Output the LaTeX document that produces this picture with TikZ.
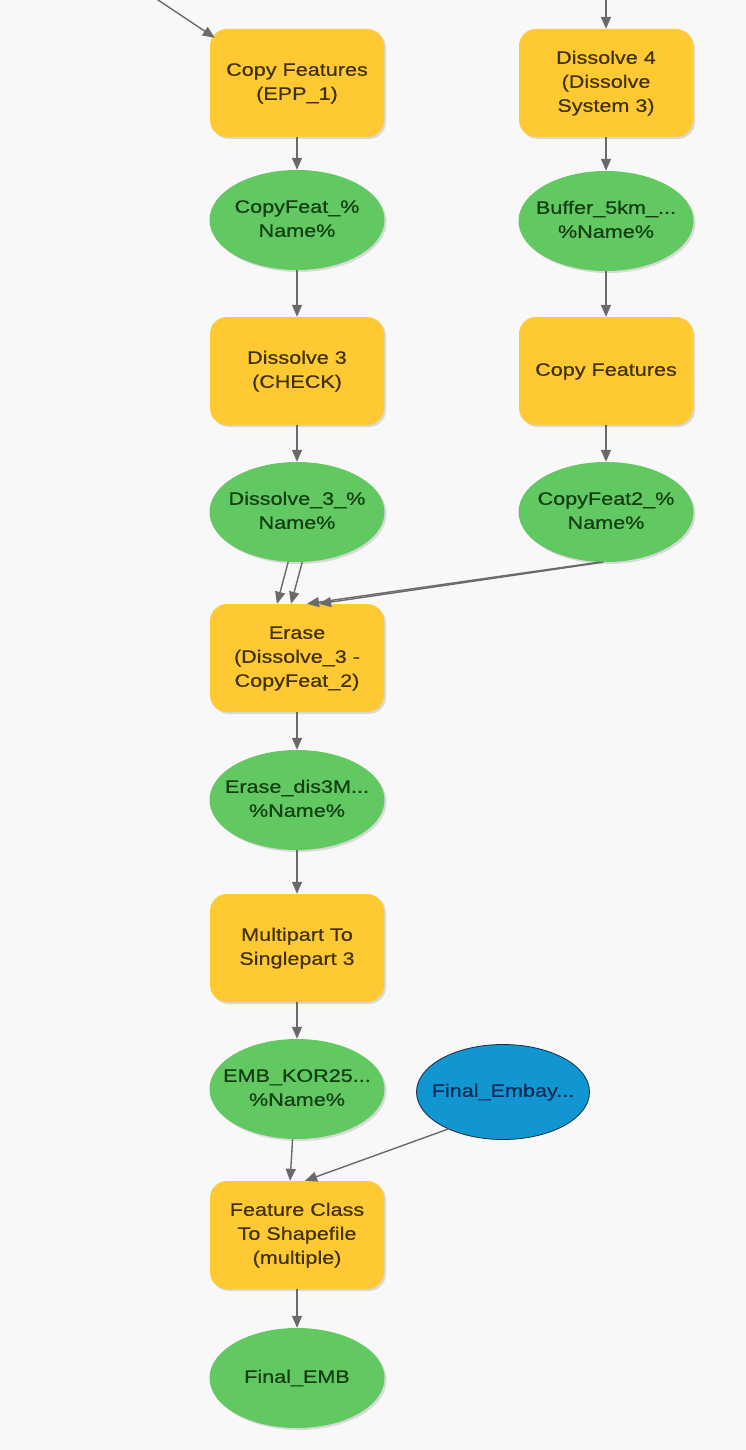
\documentclass[tikz,border=0pt]{standalone}
\usepackage{fontspec}
\setmainfont{Liberation Sans}
\newfontfamily\labfont[FakeStretch=1.2,FakeBold=0.6]{Liberation Sans}
\usetikzlibrary{arrows.meta,shapes.geometric,shadows,calc}
\definecolor{bg}{HTML}{F8F8F8}
\definecolor{toolfill}{HTML}{FFC933}
\definecolor{tooltxt}{HTML}{3F3200}
\definecolor{datafill}{HTML}{62C862}
\definecolor{datatxt}{HTML}{123F12}
\definecolor{inpfill}{HTML}{1296D2}
\definecolor{inpline}{HTML}{1C2B45}
\definecolor{inptxt}{HTML}{0E2A55}
\definecolor{conn}{HTML}{6A6A6A}
\newcommand{\mlab}[1]{\makebox[0pt]{\begin{tabular}{@{}c@{}}#1\end{tabular}}}
\tikzset{
  base/.style={inner sep=0pt, font=\labfont\fontsize{18}{24}\selectfont},
  toolbox/.style={base, rectangle, rounded corners=17pt, fill=toolfill, draw=none,
    minimum width=174pt, minimum height=108pt, text=tooltxt,
    drop shadow={shadow xshift=2pt, shadow yshift=-2pt, opacity=0.25}},
  databox/.style={base, ellipse, fill=datafill, draw=none,
    minimum width=175pt, minimum height=100pt, text=datatxt,
    drop shadow={shadow xshift=2pt, shadow yshift=-2pt, opacity=0.25}},
  inpbox/.style={base, ellipse, fill=inpfill, draw=inpline, line width=0.8pt,
    minimum width=173pt, minimum height=95pt, text=inptxt},
  conn/.style={draw=conn, line width=1.4pt, -{Triangle[length=12pt,width=10pt]}}
}
\begin{document}
\begin{tikzpicture}[x=1pt,y=-1pt]
\fill[bg] (0,0) rectangle (746,1450);
\useasboundingbox (0,0) rectangle (746,1450);

% left column
\node[toolbox] (cf1) at (297,83) {\mlab{Copy Features\\(EPP\_1)}};
\node[databox] (o1) at (297,220) {\mlab{CopyFeat\_\%\\Name\%}};
\node[toolbox] (d3) at (297,371) {\mlab{Dissolve 3\\(CHECK)}};
\node[databox] (o2) at (297,512) {\mlab{Dissolve\_3\_\%\\Name\%}};
\node[toolbox] (er) at (297,658) {\mlab{Erase\\(Dissolve\_3 -\\CopyFeat\_2)}};
\node[databox] (o3) at (297,800) {\mlab{Erase\_dis3M...\\\%Name\%}};
\node[toolbox] (mp) at (297,948) {\mlab{Multipart To\\Singlepart 3}};
\node[databox] (o4) at (297,1089) {\mlab{EMB\_KOR25...\\\%Name\%}};
\node[toolbox] (fc) at (297,1235) {\mlab{Feature Class\\To Shapefile\\(multiple)}};
\node[databox] (o5) at (297,1378) {\mlab{Final\_EMB}};

% right column
\node[toolbox] (d4) at (606,83) {\mlab{Dissolve 4\\(Dissolve\\System 3)}};
\node[databox] (r1) at (606,221) {\mlab{Buffer\_5km\_...\\\%Name\%}};
\node[toolbox] (cf2) at (606,371) {\mlab{Copy Features}};
\node[databox] (r2) at (606,512) {\mlab{CopyFeat2\_\%\\Name\%}};

% extra input
\node[inpbox] (fe) at (503,1092) {\mlab{Final\_Embay...}};

% free ends
\coordinate (in1) at (155,-2);
\coordinate (in2) at (606,-2);

% connectors
\draw[conn] (in1) -- ($(cf1.north west)+(5,9)$);
\draw[conn] (in2) -- (d4.north);
\draw[conn] (cf1.south) -- (o1.north);
\draw[conn] (o1.south) -- (d3.north);
\draw[conn] (d3.south) -- (o2.north);
\draw[conn] (o2.-100) -- ($(er.north)+(-20,0)$);
\draw[conn] (o2.-84) -- ($(er.north)+(-6,0)$);
\draw[conn] (r2.-97) -- ($(er.north)+(10,0)$);
\draw[conn] (r2.-93) -- ($(er.north)+(22,0)$);
\draw[conn] (er.south) -- (o3.north);
\draw[conn] (o3.south) -- (mp.north);
\draw[conn] (mp.south) -- (o4.north);
\draw[conn] (o4.-95) -- ($(fc.north)+(-7,0)$);
\draw[conn] (fe.-146) -- ($(fc.north)+(8,0)$);
\draw[conn] (fc.south) -- (o5.north);
\draw[conn] (d4.south) -- (r1.north);
\draw[conn] (r1.south) -- (cf2.north);
\draw[conn] (cf2.south) -- (r2.north);
\end{tikzpicture}
\end{document}
